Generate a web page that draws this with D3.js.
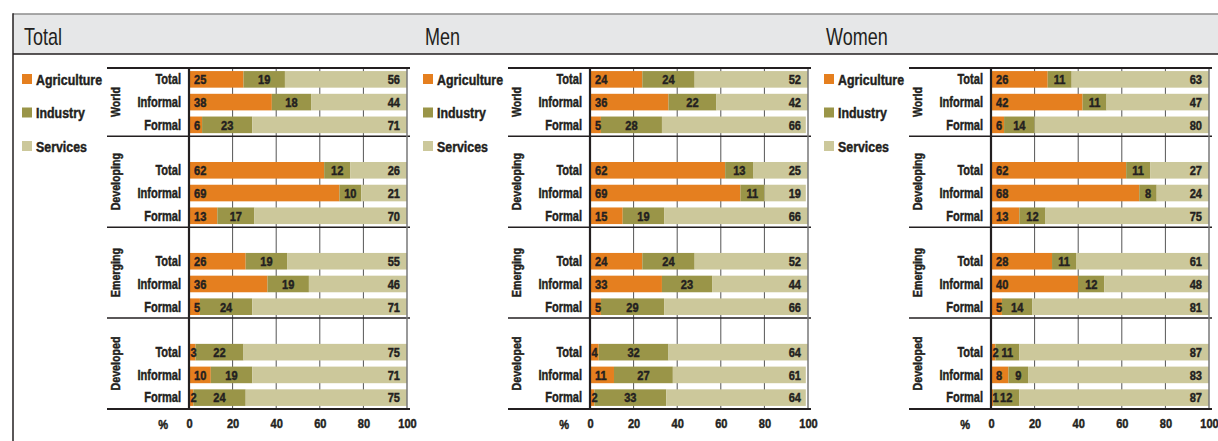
<!DOCTYPE html>
<html>
<head>
<meta charset="utf-8">
<script src="https://cdn.jsdelivr.net/npm/d3@7"></script>
<style>
  body { margin: 0; background: #fff; }
  svg { display: block; }
</style>
</head>
<body>
<div id="chart"></div>
<script>
// data, % of employment by sector
const panels = ["Total", "Men", "Women"];
const regions = ["World", "Developing", "Emerging", "Developed"];
const rowTypes = ["Total", "Informal", "Formal"];
const sectors = ["Agriculture", "Industry", "Services"];
const tickValues = [0, 20, 40, 60, 80, 100];

// rows: World T/I/F, Developing T/I/F, Emerging T/I/F, Developed T/I/F
const totalValues = [
    [25, 19, 56], [38, 18, 44], [6, 23, 71],
    [62, 12, 26], [69, 10, 21], [13, 17, 70],
    [26, 19, 55], [36, 19, 46], [5, 24, 71],
    [3, 22, 75], [10, 19, 71], [2, 24, 75]
];
const menValues = [
    [24, 24, 52], [36, 22, 42], [5, 28, 66],
    [62, 13, 25], [69, 11, 19], [15, 19, 66],
    [24, 24, 52], [33, 23, 44], [5, 29, 66],
    [4, 32, 64], [11, 27, 61], [2, 33, 64]
];
const womenValues = [
    [26, 11, 63], [42, 11, 47], [6, 14, 80],
    [62, 11, 27], [68, 8, 24], [13, 12, 75],
    [28, 11, 61], [40, 12, 48], [5, 14, 81],
    [2, 11, 87], [8, 9, 83], [1, 12, 87]
];
const panelValues = [totalValues, menValues, womenValues];

const frame_width = 1218;
const frame_height = 441;
const colors = ["#e57f1f", "#9a9548", "#ccc89b"];
const ink = "#231f20";

// the original uses a heavy condensed face, so squeeze Liberation Sans sideways
const SX = 0.82;
const squeeze = "scale(" + SX + ",1)";

const svg = d3.select("#chart")
    .append("svg")
        .attr("width", frame_width)
        .attr("height", frame_height)
        .style("font-family", "'Liberation Sans', Arial, sans-serif");

// helper: text at (x, y) squeezed horizontally, bold text gets a thin outline
function label(parent, x, y, str, size, weight, anchor, sx) {
    const t = parent.append("g")
        .attr("transform", "translate(" + x + "," + y + ") scale(" + (sx || SX) + ",1)")
        .append("text")
            .attr("font-size", size)
            .attr("font-weight", weight)
            .attr("text-anchor", anchor || "start")
            .attr("fill", ink)
            .text(str);
    if (weight === "bold") t.attr("stroke", ink).attr("stroke-width", 0.45);
    return t;
}

// header band
svg.append("rect")
    .attr("x", 13).attr("y", 14)
    .attr("width", frame_width - 13).attr("height", 40)
    .attr("fill", "#e6e7e8");
svg.append("line")
    .attr("x1", 13).attr("x2", frame_width).attr("y1", 14).attr("y2", 14)
    .attr("stroke", "#8c8c8c").attr("stroke-width", 1.5);
svg.append("line")
    .attr("x1", 13).attr("x2", frame_width).attr("y1", 54).attr("y2", 54)
    .attr("stroke", ink).attr("stroke-width", 1.5);
svg.append("line")
    .attr("x1", 13).attr("x2", 13).attr("y1", 13.3).attr("y2", frame_height)
    .attr("stroke", ink).attr("stroke-width", 1.5);

// row slots, with an empty slot above every group but the first
const rowKeys = [];
regions.forEach((r, i) => {
    if (i > 0) rowKeys.push(r + "|gap");
    rowTypes.forEach(t => rowKeys.push(r + "|" + t));
});

const plotTop = 68, plotBottom = 409;
const Y_SCALE = d3.scaleBand()
    .domain(rowKeys)
    .range([plotTop, plotBottom])
    .paddingInner(0.27)
    .paddingOuter(0.135);
const slotStart = (key) => Y_SCALE(key) - Y_SCALE.step() * 0.135;
const midY = (key) => Y_SCALE(key) + Y_SCALE.bandwidth() / 2 + 4.8;

const panelStep = 401;

panels.forEach((name, p) => {
    const off = p * panelStep;
    const g = svg.append("g").attr("transform", "translate(" + off + ",0)");

    const X_SCALE = d3.scaleLinear().domain([0, 100]).range([189, 407]);

    // panel title
    label(g, 24, 44.5, name, 24, "normal", "start", 0.75);

    // legend
    sectors.forEach((s, i) => {
        const ly = 74 + i * 33.5;
        g.append("rect")
            .attr("x", 22).attr("y", ly)
            .attr("width", 10).attr("height", 10)
            .attr("fill", colors[i]);
        label(g, 36, ly + 10.8, s, 15.5, "bold", "start", 0.8);
    });

    // gridlines behind the bars
    g.selectAll(".grid")
        .data(tickValues.slice(1, 5))
        .enter()
        .append("line")
            .attr("x1", d => X_SCALE(d)).attr("x2", d => X_SCALE(d))
            .attr("y1", plotTop).attr("y2", plotBottom)
            .attr("stroke", "#555").attr("stroke-width", 1);

    // stacked bars
    const rows = [];
    regions.forEach((r, ri) => {
        rowTypes.forEach((t, ti) => {
            const vals = panelValues[p][ri * 3 + ti];
            let cum = 0;
            vals.forEach((v, si) => {
                rows.push({key: r + "|" + t, sector: si, value: v, start: cum, end: Math.min(cum + v, 100)});
                cum += v;
            });
        });
    });

    g.selectAll(".bar")
        .data(rows)
        .enter()
        .append("rect")
            .attr("x", d => X_SCALE(d.start))
            .attr("width", d => X_SCALE(d.end) - X_SCALE(d.start))
            .attr("y", d => Y_SCALE(d.key))
            .attr("height", Y_SCALE.bandwidth())
            .attr("fill", d => colors[d.sector]);

    // value labels: agriculture left, industry centred, services right
    rows.forEach(d => {
        let x, anchor;
        if (d.sector === 0) { x = X_SCALE(0) + (d.value < 5 ? 1.5 : 5); anchor = "start"; }
        else if (d.sector === 1) { x = (X_SCALE(d.start) + X_SCALE(d.end)) / 2; anchor = "middle"; }
        else { x = X_SCALE(100) - 7; anchor = "end"; }
        label(g, x, midY(d.key), d.value, 13.5, "bold", anchor);
    });

    // row labels
    rowKeys.filter(k => !k.endsWith("|gap")).forEach(k => {
        label(g, 181, midY(k), k.split("|")[1], 14, "bold", "end", 0.79);
    });

    // group separators and rotated group labels
    const bounds = regions.map((r, i) => i === 0 ? plotTop : slotStart(r + "|gap"));
    bounds.push(plotBottom);

    g.selectAll(".sep")
        .data(bounds.slice(1, 4))
        .enter()
        .append("line")
            .attr("x1", 107).attr("x2", 410)
            .attr("y1", d => d).attr("y2", d => d)
            .attr("stroke", ink).attr("stroke-width", 1.5);

    g.selectAll(".grp")
        .data(regions)
        .enter()
        .append("text")
            .attr("transform", (d, i) => "translate(119.5," + ((bounds[i] + bounds[i + 1]) / 2) + ") rotate(-90) " + squeeze)
            .attr("text-anchor", "middle")
            .attr("font-size", 13).attr("font-weight", "bold")
            .attr("fill", ink)
            .attr("stroke", ink).attr("stroke-width", 0.45)
            .text(d => d);

    // right edge, zero line, top and bottom rules
    g.append("line")
        .attr("x1", X_SCALE(100)).attr("x2", X_SCALE(100))
        .attr("y1", plotTop).attr("y2", plotBottom)
        .attr("stroke", "#777").attr("stroke-width", 1.5);
    g.append("line")
        .attr("x1", X_SCALE(0)).attr("x2", X_SCALE(0))
        .attr("y1", plotTop - 1).attr("y2", plotBottom + 1)
        .attr("stroke", ink).attr("stroke-width", 2.2);
    [plotTop, plotBottom].forEach(yy => {
        g.append("line")
            .attr("x1", 107).attr("x2", 410)
            .attr("y1", yy).attr("y2", yy)
            .attr("stroke", ink).attr("stroke-width", 2);
    });

    // x axis
    const xAxis = g.append("g")
        .attr("transform", "translate(0," + plotBottom + ")")
        .call(d3.axisBottom(X_SCALE).tickValues(tickValues).tickSize(0).tickPadding(9.5));
    xAxis.select(".domain").remove();
    xAxis.selectAll("text")
        .attr("transform", squeeze)
        .attr("font-family", "'Liberation Sans', Arial, sans-serif")
        .attr("font-size", 13.5).attr("font-weight", "bold")
        .attr("fill", ink)
        .attr("stroke", ink).attr("stroke-width", 0.45);

    label(g, 168, 428.5, "%", 13.5, "bold", "end");
});
</script>
</body>
</html>
